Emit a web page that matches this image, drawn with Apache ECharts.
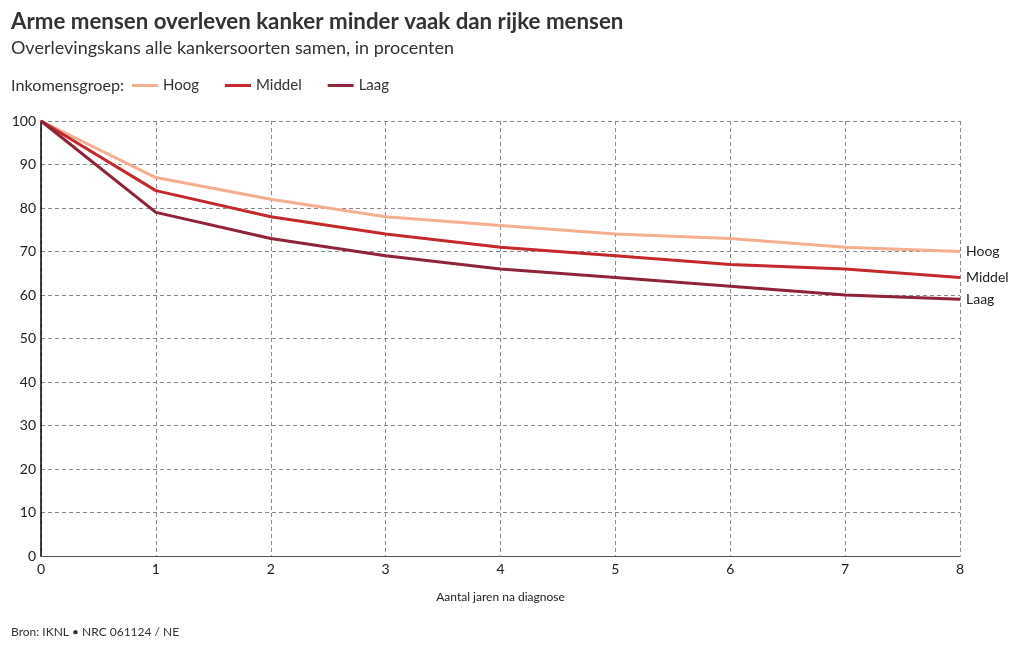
<!DOCTYPE html>
<html>
<head>
<meta charset="utf-8">
<script src="https://cdn.jsdelivr.net/npm/echarts@6/dist/echarts.min.js"></script>
<style>
html,body{margin:0;padding:0;background:#fff;}
#c{width:1020px;height:650px;}
</style>
</head>
<body>
<div id="c"></div>
<script>
const years = [0, 1, 2, 3, 4, 5, 6, 7, 8];
const hoog = [100, 87, 82, 78, 76, 74, 73, 71, 70];
const middel = [100, 84, 78, 74, 71, 69, 67, 66, 64];
const laag = [100, 79, 73, 69, 66, 64, 62, 60, 59];
const seriesNames = ['Hoog', 'Middel', 'Laag'];
const colors = ['#f4ae90', '#c4282b', '#8f2337'];

const FONT = 'Lato, "Noto Sans", sans-serif';
const chart = echarts.init(document.getElementById('c'), null, {renderer: 'canvas'});

function mk(name, vals, color) {
  return {
    name: name,
    type: 'line',
    data: years.map((y, i) => [y, vals[i]]),
    symbol: 'none',
    lineStyle: {width: 3, color: color},
    itemStyle: {color: color},
    endLabel: {show: true, formatter: '{a}', color: '#222', fontFamily: FONT, fontSize: 14, distance: 6},
    z: 3
  };
}

chart.setOption({
  animation: false,
  textStyle: {fontFamily: FONT},
  title: [
    {text: 'Arme mensen overleven kanker minder vaak dan rijke mensen', left: 11, top: 11, padding: 0,
     textStyle: {fontFamily: FONT, fontSize: 22.3, fontWeight: 'bold', color: '#333'}},
    {text: 'Overlevingskans alle kankersoorten samen, in procenten', left: 11, top: 39, padding: 0,
     textStyle: {fontFamily: FONT, fontSize: 18, fontWeight: 'normal', color: '#333'}},
    {text: 'Inkomensgroep:', left: 11, top: 78, padding: 0,
     textStyle: {fontFamily: FONT, fontSize: 16.2, fontWeight: 'normal', color: '#333'}},
    {text: 'Bron: IKNL • NRC 061124 / NE', left: 11, top: 626, padding: 0,
     textStyle: {fontFamily: FONT, fontSize: 12, fontWeight: 'normal', color: '#333'}}
  ],
  legend: {
    data: seriesNames,
    left: 132, top: 78, padding: 0,
    icon: 'rect', itemWidth: 26, itemHeight: 3, itemGap: 26,
    textStyle: {fontFamily: FONT, fontSize: 15, color: '#333'}
  },
  grid: {left: 41, right: 60, top: 121, bottom: 94, containLabel: false},
  xAxis: {
    type: 'value', min: 0, max: 8, interval: 1,
    name: 'Aantal jaren na diagnose', nameLocation: 'middle', nameGap: 35,
    nameTextStyle: {fontFamily: FONT, fontSize: 12, color: '#222'},
    axisLine: {show: true, lineStyle: {color: '#555', width: 1}},
    axisTick: {show: false},
    axisLabel: {fontFamily: FONT, fontSize: 14, color: '#222', margin: 6},
    splitLine: {show: true, lineStyle: {type: [4, 3], color: '#888', width: 1}}
  },
  yAxis: {
    type: 'value', min: 0, max: 100, interval: 10,
    axisLine: {show: true, lineStyle: {color: '#000', width: 1.5}},
    axisTick: {show: false},
    axisLabel: {fontFamily: FONT, fontSize: 14, color: '#222', margin: 5},
    splitLine: {show: true, lineStyle: {type: [4, 3], color: '#888', width: 1}}
  },
  series: [mk('Hoog', hoog, colors[0]), mk('Middel', middel, colors[1]), mk('Laag', laag, colors[2])]
});
</script>
</body>
</html>
